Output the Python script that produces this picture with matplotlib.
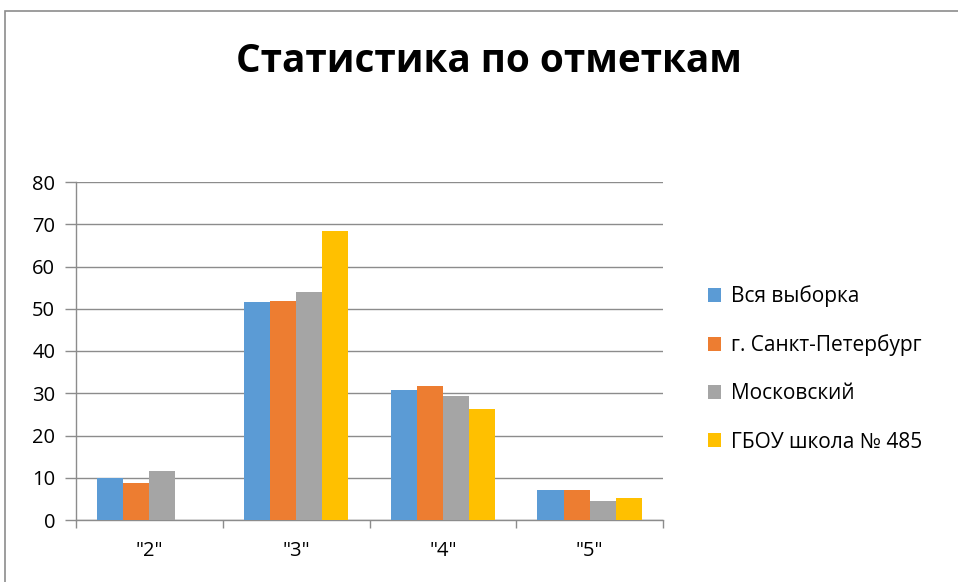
import matplotlib
matplotlib.use("Agg")
import matplotlib.pyplot as plt
import numpy as np
from matplotlib.patches import Rectangle, Patch

categories = ['"2"', '"3"', '"4"', '"5"']
series_names = ["Вся выборка", "г. Санкт-Петербург", "Московский", "ГБОУ школа № 485"]
vsya = [9.9, 51.5, 30.7, 7.0]
spb = [8.8, 51.9, 31.6, 7.0]
mosk = [11.5, 54.0, 29.4, 4.6]
school = [np.nan, 68.3, 26.2, 5.2]
yticks = [0, 10, 20, 30, 40, 50, 60, 70, 80]
colors = ["#5B9BD5", "#ED7D31", "#A5A5A5", "#FFC000"]

plt.rcParams['font.family'] = ['Open Sans', 'DejaVu Sans']

fig = plt.figure(figsize=(9.58, 5.82), dpi=100)
fig.patches.append(Rectangle((5/958, -0.1), 1.2, (582-11)/582 + 0.1, transform=fig.transFigure,
                             fill=False, edgecolor="#8c8c8c", linewidth=1.2))

ax = fig.add_axes([76/958, 1-520/582, (663-76)/958, (520-182)/582])
x = np.arange(len(categories))
w = 0.178
data = [vsya, spb, mosk, school]
for i, (vals, c, n) in enumerate(zip(data, colors, series_names)):
    ax.bar(x + (i - 1.5) * w, vals, width=w, color=c, label=n, zorder=3)

ax.set_xlim(-0.5, 3.5)
ax.set_ylim(0, 80)
ax.set_yticks(yticks)
ax.set_yticklabels([str(t) for t in yticks], fontsize=14.5)
ax.set_xticks(x)
ax.set_xticklabels(categories, fontsize=14.5)
ax.set_xticks(np.arange(-0.5, 4.0, 1.0), minor=True)
ax.tick_params(axis='x', which='major', length=0, pad=15)
ax.tick_params(axis='x', which='minor', length=6, color="#8c8c8c", width=1)
ax.tick_params(axis='y', length=8, color="#8c8c8c", width=1, pad=7)
ax.grid(axis='y', color="#8c8c8c", linewidth=1, zorder=0)
for s in ['top', 'right']:
    ax.spines[s].set_visible(False)
for s in ['left', 'bottom']:
    ax.spines[s].set_color("#8c8c8c")
    ax.spines[s].set_linewidth(1)

fig.text(489/958, 1-62/582, "Статистика по отметкам", ha='center', va='center',
         fontsize=27.8, fontweight='bold')

handles = [Patch(facecolor=c, edgecolor='none') for c in colors]
fig.legend(handles, series_names, loc='center left', bbox_to_anchor=(689/958, 1-369/582),
           frameon=False, fontsize=15, handlelength=0.65, handleheight=0.65,
           handletextpad=0.45, labelspacing=1.3)

fig.savefig("out.png", dpi=100)
